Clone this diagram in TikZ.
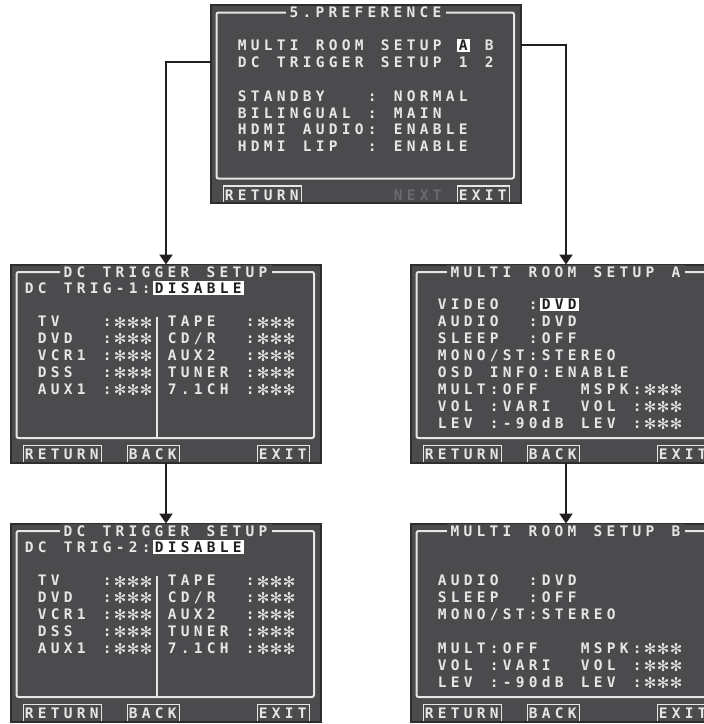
\documentclass[tikz,border=0pt]{standalone}
\usepackage{fontspec}
\setmonofont{DejaVu Sans Mono}
\newfontfamily\symfont{DejaVu Sans}
\usetikzlibrary{arrows.meta}

\definecolor{scrfill}{HTML}{4B4B4D}
\definecolor{scrline}{HTML}{2D2D2D}
\definecolor{osdfg}{HTML}{E6E6E6}
\definecolor{osddim}{HTML}{6A6A6C}
\definecolor{osdhi}{HTML}{FFFFFF}
\definecolor{osdink}{HTML}{1E1E1E}
\definecolor{wire}{HTML}{231F20}

\newcommand\osdfont{\ttfamily\bfseries\fontsize{14.5}{14.5}\selectfont}
\newcommand\osdstar{\raisebox{-1.2pt}{\symfont\mdseries\fontsize{15}{15}\selectfont ✻}}

% tekens op een vast raster van 13pt
\ExplSyntaxOn
\NewDocumentCommand \osdtext { m }
  {
    \str_map_inline:nn {#1}
      {
        \str_if_eq:nnTF {##1} {*}
          { \makebox[13pt]{\osdstar} }
          { \makebox[13pt]{##1} }
      }
  }
\ExplSyntaxOff

\tikzset{
  scherm/.style={draw=scrline, line width=2pt, fill=scrfill,
    minimum width=310pt, minimum height=198pt,
    inner sep=0pt, outer sep=0pt, anchor=north west},
  osd/.style={font=\osdfont, text=osdfg, inner sep=0pt,
    text height=11.9pt, text depth=1.5pt, anchor=west},
  osdhl/.style={osd, fill=osdhi, text=osdink},
  osddim/.style={osd, text=osddim},
  osdtitel/.style={osd, fill=scrfill, inner xsep=2pt, anchor=center},
  kader/.style={draw=osdfg, line width=2pt, rounded corners=2pt},
  toets/.style={draw=osdfg, line width=1.5pt},
  deler/.style={draw=osdfg, line width=2pt},
  draad/.style={draw=wire, line width=2pt, ->},
}

% kolom, rij, tekst
\newcommand\osdrij[4][osd]{\node[#1] at ({11.5+13*#2},{6.4+16.9*#3}) {\osdtext{#4}};}
% kader met titel
\newcommand\osdkader[1]{%
  \draw[kader] (5.5,7.5) rectangle (303,173.5);
  \node[osdtitel] at (154.5,7.5) {\osdtext{#1}};}
% toets onderin: kolom, breedte, tekst
\newcommand\osdtoets[3]{%
  \draw[toets] ({12.5+13*#1},197) |- ({12.5+13*(#1+#2)},181) -- ++(0,16);
  \node[osd] at ({11.5+13*#1},190) {\osdtext{#3}};}

\begin{document}
\begin{tikzpicture}[x=1pt, y=-1pt, >={Triangle[width=13pt,length=10pt]}]

  \useasboundingbox (0,0) rectangle (704,724);
  \clip (0,0) rectangle (704,724);

  % Schermen
  \node[scherm] (pref)    at (211,5)     {};
  \node[scherm] (dctrig1) at (11,264.5)  {};
  \node[scherm] (multiA)  at (411,264.5) {};
  \node[scherm] (dctrig2) at (11,523.5)  {};
  \node[scherm] (multiB)  at (411,523.5) {};

  % 5.PREFERENCE
  \begin{scope}[shift={(pref.north west)}]
    \osdkader{5.PREFERENCE}
    \osdrij{1}{2}{MULTI ROOM SETUP}
    \osdrij[osdhl]{18}{2}{A}
    \osdrij{20}{2}{B}
    \osdrij{1}{3}{DC TRIGGER SETUP 1 2}
    \osdrij{1}{5}{STANDBY}
    \osdrij{11}{5}{: NORMAL}
    \osdrij{1}{6}{BILINGUAL : MAIN}
    \osdrij{1}{7}{HDMI AUDIO: ENABLE}
    \osdrij{1}{8}{HDMI LIP}
    \osdrij{11}{8}{: ENABLE}
    \osdtoets{0}{6}{RETURN}
    \node[osddim] at ({11.5+13*13},190) {\osdtext{NEXT}};
    \osdtoets{18}{4}{EXIT}
    \coordinate (dcrij) at (0,{6.4+16.9*3});
    \coordinate (mrrij) at (310,{6.4+16.9*2});
  \end{scope}

  % DC TRIGGER SETUP 1
  \begin{scope}[shift={(dctrig1.north west)}]
    \osdkader{DC TRIGGER SETUP}
    \osdrij{0}{1}{DC TRIG-1:}
    \osdrij[osdhl]{10}{1}{DISABLE}
    \draw[deler] (146,52) -- (146,173.5);
    \osdrij{1}{3}{TV}   \osdrij{6}{3}{:***} \osdrij{11}{3}{TAPE}  \osdrij{17}{3}{:***}
    \osdrij{1}{4}{DVD}  \osdrij{6}{4}{:***} \osdrij{11}{4}{CD/R}  \osdrij{17}{4}{:***}
    \osdrij{1}{5}{VCR1 :***}                \osdrij{11}{5}{AUX2}  \osdrij{17}{5}{:***}
    \osdrij{1}{6}{DSS}  \osdrij{6}{6}{:***} \osdrij{11}{6}{TUNER :***}
    \osdrij{1}{7}{AUX1 :***}                \osdrij{11}{7}{7.1CH :***}
    \osdtoets{0}{6}{RETURN}
    \osdtoets{8}{4}{BACK}
    \osdtoets{18}{4}{EXIT}
  \end{scope}

  % DC TRIGGER SETUP 2
  \begin{scope}[shift={(dctrig2.north west)}]
    \osdkader{DC TRIGGER SETUP}
    \osdrij{0}{1}{DC TRIG-2:}
    \osdrij[osdhl]{10}{1}{DISABLE}
    \draw[deler] (146,52) -- (146,173.5);
    \osdrij{1}{3}{TV}   \osdrij{6}{3}{:***} \osdrij{11}{3}{TAPE}  \osdrij{17}{3}{:***}
    \osdrij{1}{4}{DVD}  \osdrij{6}{4}{:***} \osdrij{11}{4}{CD/R}  \osdrij{17}{4}{:***}
    \osdrij{1}{5}{VCR1 :***}                \osdrij{11}{5}{AUX2}  \osdrij{17}{5}{:***}
    \osdrij{1}{6}{DSS}  \osdrij{6}{6}{:***} \osdrij{11}{6}{TUNER :***}
    \osdrij{1}{7}{AUX1 :***}                \osdrij{11}{7}{7.1CH :***}
    \osdtoets{0}{6}{RETURN}
    \osdtoets{8}{4}{BACK}
    \osdtoets{18}{4}{EXIT}
  \end{scope}

  % MULTI ROOM SETUP A
  \begin{scope}[shift={(multiA.north west)}]
    \osdkader{MULTI ROOM SETUP A}
    \osdrij{1}{2}{VIDEO} \osdrij{8}{2}{:} \osdrij[osdhl]{9}{2}{DVD}
    \osdrij{1}{3}{AUDIO} \osdrij{8}{3}{:DVD}
    \osdrij{1}{4}{SLEEP} \osdrij{8}{4}{:OFF}
    \osdrij{1}{5}{MONO/ST:STEREO}
    \osdrij{1}{6}{OSD INFO:ENABLE}
    \osdrij{1}{7}{MULT:OFF}   \osdrij{12}{7}{MSPK:***}
    \osdrij{1}{8}{VOL :VARI}  \osdrij{12}{8}{VOL :***}
    \osdrij{1}{9}{LEV :-90dB LEV :***}
    \osdtoets{0}{6}{RETURN}
    \osdtoets{8}{4}{BACK}
    \osdtoets{18}{4}{EXIT}
  \end{scope}

  % MULTI ROOM SETUP B
  \begin{scope}[shift={(multiB.north west)}]
    \osdkader{MULTI ROOM SETUP B}
    \osdrij{1}{3}{AUDIO} \osdrij{8}{3}{:DVD}
    \osdrij{1}{4}{SLEEP} \osdrij{8}{4}{:OFF}
    \osdrij{1}{5}{MONO/ST:STEREO}
    \osdrij{1}{7}{MULT:OFF}   \osdrij{12}{7}{MSPK:***}
    \osdrij{1}{8}{VOL :VARI}  \osdrij{12}{8}{VOL :***}
    \osdrij{1}{9}{LEV :-90dB LEV :***}
    \osdtoets{0}{6}{RETURN}
    \osdtoets{8}{4}{BACK}
    \osdtoets{18}{4}{EXIT}
  \end{scope}

  % Verbindingen
  \draw[draad] (dcrij) -| (dctrig1.north);
  \draw[draad] (mrrij) -| (multiA.north);
  \draw[draad] (dctrig1.south) -- (dctrig2.north);
  \draw[draad] (multiA.south) -- (multiB.north);

\end{tikzpicture}
\end{document}
